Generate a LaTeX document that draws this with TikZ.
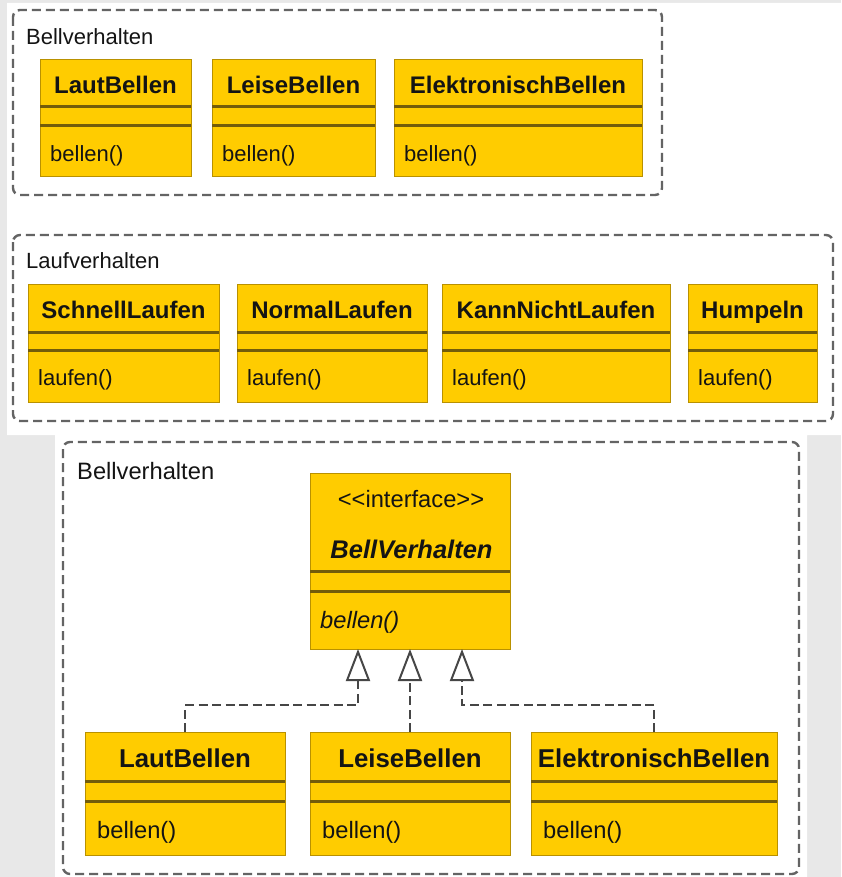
\documentclass[tikz,border=0pt]{standalone}
\usepackage{fontspec}
\setmainfont{Liberation Sans}
\usetikzlibrary{arrows.meta}

\definecolor{umlfill}{RGB}{255,204,0}
\definecolor{umledge}{RGB}{185,145,0}
\definecolor{umlsep}{RGB}{115,92,10}
\definecolor{framegray}{RGB}{100,100,100}
\definecolor{linkgray}{RGB}{70,70,70}
\definecolor{pagegray}{RGB}{232,232,232}
\definecolor{ink}{RGB}{20,20,20}

\tikzset{
  clsbox/.style={fill=umlfill, draw=umledge, line width=1pt, inner sep=0pt,
    outer sep=0pt, anchor=north west},
  sepline/.style={draw=umlsep, line width=3pt},
  clsname/.style={font=\fontsize{24}{28}\selectfont\bfseries, text=ink,
    inner sep=0pt, text height=17pt, text depth=0pt},
  methtext/.style={font=\fontsize{22}{26}\selectfont, text=ink, inner sep=0pt,
    text height=15.8pt, text depth=0pt, anchor=west, xshift=10pt},
  panellabel/.style={font=\fontsize{22}{26}\selectfont, text=ink, inner sep=0pt,
    text height=15.8pt, text depth=0pt, anchor=west},
  groupframe/.style={draw=framegray, line width=2.4pt,
    dash pattern=on 9pt off 5pt, rounded corners=7pt},
  realize/.style={draw=linkgray, line width=2.4pt, dash pattern=on 9pt off 4.5pt,
    -{Triangle[open, length=32pt, width=24pt, line width=2pt]}},
}

% #1 name, #2 left, #3 top, #4 right, #5 bottom,
% #6 first separator, #7 second separator, #8 class name, #9 operation
\newcommand\umlclass[9]{%
  \node[clsbox, minimum width={(#4)-(#2)}, minimum height={(#5)-(#3)}] (#1) at (#2,#3) {};
  \draw[sepline] (#1.west |- 0,#6) -- (#1.east |- 0,#6);
  \draw[sepline] (#1.west |- 0,#7) -- (#1.east |- 0,#7);
  \node[clsname] (#1-name) at ({(#2+#4)/2},{(#3+#6)/2+2}) {#8};
  \node[methtext] (#1-op) at (#2,{(#7+#5)/2+2}) {#9};
}

\begin{document}
\begin{tikzpicture}[x=1pt, y=-1pt]
  % page background
  \useasboundingbox (0,0) rectangle (841,877);
  \fill[pagegray] (0,0) rectangle (841,877);
  \fill[white] (7,3) -- (841,3) -- (841,435) -- (807,435) -- (807,877)
    -- (55,877) -- (55,435) -- (7,435) -- cycle;

  % ---- group: Bellverhalten (plain classes)
  \draw[groupframe] (13,10) rectangle (662,195);
  \node[panellabel] (lbl1) at (26,37) {Bellverhalten};
  \umlclass{a1}{40}{60}{191}{177}{107}{126}{LautBellen}{bellen()}
  \umlclass{a2}{212}{60}{375}{177}{107}{126}{LeiseBellen}{bellen()}
  \umlclass{a3}{394}{60}{642}{177}{107}{126}{ElektronischBellen}{bellen()}

  % ---- group: Laufverhalten
  \draw[groupframe] (13,235) rectangle (833,421);
  \node[panellabel] (lbl2) at (26,261) {Laufverhalten};
  \umlclass{b1}{28}{284}{219}{402}{332}{350}{SchnellLaufen}{laufen()}
  \umlclass{b2}{237}{284}{427}{402}{332}{350}{NormalLaufen}{laufen()}
  \umlclass{b3}{442}{284}{670}{402}{332}{350}{KannNichtLaufen}{laufen()}
  \umlclass{b4}{688}{284}{817}{402}{332}{350}{Humpeln}{laufen()}

  % ---- group: Bellverhalten with interface
  \begin{scope}[
      clsname/.style={font=\fontsize{25.8}{30}\selectfont\bfseries, text=ink,
        inner sep=0pt, text height=18.4pt, text depth=0pt},
      methtext/.style={font=\fontsize{23.7}{28}\selectfont, text=ink, inner sep=0pt,
        text height=17pt, text depth=0pt, anchor=west, xshift=12pt},
      panellabel/.style={font=\fontsize{23.7}{28}\selectfont, text=ink, inner sep=0pt,
        text height=17pt, text depth=0pt, anchor=west}]
    \draw[groupframe] (63,442) rectangle (799,874);
    \node[panellabel] (lbl3) at (77,471) {Bellverhalten};

    % interface
    \node[clsbox, minimum width=200pt, minimum height=176pt] (iface) at (310,473) {};
    \draw[sepline] (iface.west |- 0,571) -- (iface.east |- 0,571);
    \draw[sepline] (iface.west |- 0,591) -- (iface.east |- 0,591);
    \node[font=\fontsize{23.7}{28}\selectfont, text=ink, inner sep=0pt,
      text height=17pt, text depth=0pt] (iface-st) at (411,499)
      {<\kern0pt<interface>\kern0pt>};
    \node[font=\fontsize{25.5}{30}\selectfont\bfseries\itshape, text=ink, inner sep=0pt,
      text height=18.3pt, text depth=0pt] (iface-name) at (411.5,549) {BellVerhalten};
    \node[font=\fontsize{23.7}{28}\selectfont\itshape, text=ink, inner sep=0pt,
      text height=17pt, text depth=0pt, anchor=west] (iface-op) at (320,620) {bellen()};

    % implementing classes
    \umlclass{c1}{85}{732}{285}{855}{781}{801}{LautBellen}{bellen()}
    \umlclass{c2}{310}{732}{510}{855}{781}{801}{LeiseBellen}{bellen()}
    \umlclass{c3}{531}{732}{777}{855}{781}{801}{ElektronischBellen}{bellen()}

    % realizations
    \draw[realize] (c1.north) -- ++(0,-27) -| ([xshift=-52pt]iface.south);
    \draw[realize] (c2.north) -- (iface.south);
    \draw[realize] (c3.north) -- ++(0,-27) -| ([xshift=52pt]iface.south);
  \end{scope}
\end{tikzpicture}
\end{document}
